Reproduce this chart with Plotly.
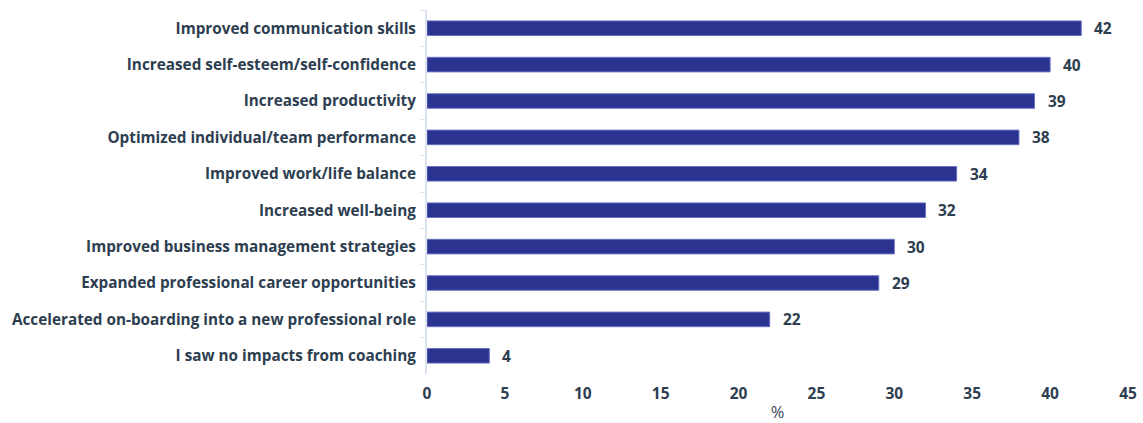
import plotly.graph_objects as go

categories = [
    "Improved communication skills",
    "Increased self-esteem/self-confidence",
    "Increased productivity",
    "Optimized individual/team performance",
    "Improved work/life balance",
    "Increased well-being",
    "Improved business management strategies",
    "Expanded professional career opportunities",
    "Accelerated on-boarding into a new professional role",
    "I saw no impacts from coaching",
]
values = [42, 40, 39, 38, 34, 32, 30, 29, 22, 4]
x_ticks = [0, 5, 10, 15, 20, 25, 30, 35, 40, 45]

BAR = "#2b3390"
TEXT = "#2d3e50"
FONT = "Open Sans"

fig = go.Figure(
    go.Bar(
        x=values,
        y=categories,
        orientation="h",
        marker=dict(color=BAR, line=dict(color="#6a72c2", width=1)),
        width=0.4,
        hoverinfo="skip",
    )
)

# value labels to the right of each bar
for cat, val in zip(categories, values):
    fig.add_annotation(
        x=val, y=cat, text=f"<b>{val}</b>", showarrow=False,
        xanchor="left", xshift=11,
        font=dict(family=FONT, size=15.5, color=TEXT),
    )

fig.update_layout(
    width=1143, height=423,
    margin=dict(l=427, r=15, t=10, b=49),
    plot_bgcolor="white", paper_bgcolor="white",
    showlegend=False,
    font=dict(family=FONT, color=TEXT),
)
fig.update_xaxes(
    range=[0, 45], tickvals=x_ticks, showgrid=False, zeroline=False,
    showline=False, ticks="", ticklabelstandoff=8, automargin=False,
    tickfont=dict(family=FONT, size=15.5, color=TEXT, weight="bold"),
    title=dict(text="%", font=dict(family=FONT, size=16.5, color="#3a4756"), standoff=10),
)
fig.update_yaxes(
    autorange="reversed", showgrid=False, zeroline=False, automargin=False,
    showline=True, linecolor="#dbe4ee", linewidth=2,
    ticks="outside", tickson="boundaries", ticklen=5, tickcolor="#dbe4ee", tickwidth=1,
    ticklabelstandoff=6,
    tickfont=dict(family=FONT, size=15.3, color=TEXT, weight="bold"),
)

fig.write_html("out.html")
